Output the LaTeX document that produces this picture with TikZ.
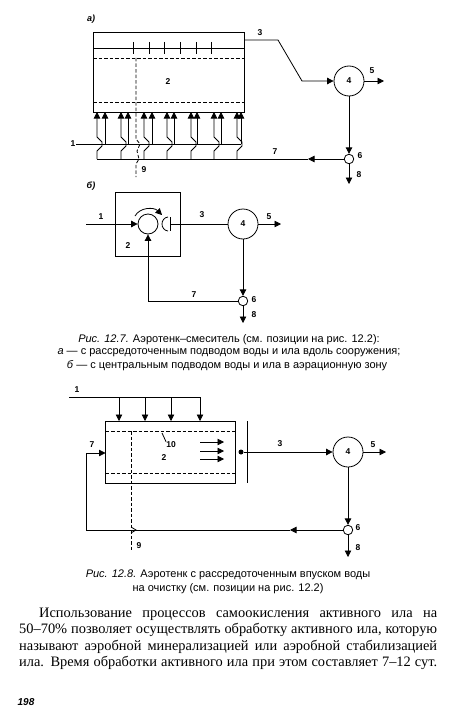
\documentclass[tikz,border=0pt]{standalone}
\usepackage{fontspec}
\setmainfont{Liberation Sans}
\newfontfamily\bodyserif{Liberation Serif}
\usetikzlibrary{arrows.meta}
\tikzset{
    num/.style={inner sep=0pt, font=\fontsize{8.5}{9}\selectfont\bfseries},
    letter/.style={inner sep=0pt, font=\fontsize{9}{10}\selectfont\bfseries\itshape},
    capline/.style={inner sep=0pt, font=\fontsize{11}{13}\selectfont},
    bodyline/.style={inner sep=0pt, anchor=base west, font=\fontsize{14.4}{16}\selectfont\bodyserif},
    tank/.style={draw, thick, inner sep=0pt},
    clar/.style={draw, thick, circle, minimum size=30pt, inner sep=0pt, font=\fontsize{8.5}{9}\selectfont\bfseries},
    split/.style={draw, thick, circle, minimum size=9.5pt, inner sep=0pt},
    pipe/.style={thick},
    flow/.style={thick, -{Stealth[inset=0pt, length=6.5pt, width=6.5pt]}},
    dash9/.style={thick, dash pattern=on 3.5pt off 2pt}
}
\begin{document}
\begin{tikzpicture}[x=1pt, y=-1pt]
    \useasboundingbox (0,0) rectangle (466,725);

    % Fig a: tank
    \node[letter] (labA) at (91,19) {а)};
    \node[tank, minimum width=151pt, minimum height=80pt] (tankA) at (168.5,72) {};
    \coordinate (topL) at (93,48);
    \coordinate (topR) at (244,48);
    \draw[pipe] (topL) -- (topR);
    \foreach \x in {133,149,164,180,196,211}
        \draw[pipe] (\x,42) -- (\x,54);
    \draw[dash9] (93,58) -- (244,58);
    \draw[dash9] (93,102) -- (244,102);
    \node[num] (twoA) at (168,82) {2};

    % Fig a: feed line and inlets
    \node[num] (oneA) at (73,144) {1};
    \coordinate (feedEnd) at (241,144);
    \draw[pipe] (76,144) -- (feedEnd);
    \foreach \a/\b in {97/105, 121/128, 144/152, 167/174, 191/197, 214/221, 237/241} {
        \draw[flow] (\a,159) -- (\a,151) -- (\a+5,146) -- (\a+5,142) -- (\a,137) -- (\a,112);
        \draw[flow] (\b,144) -- (\b,112);
    }

    % Fig a: dashed line 9
    \draw[dash9] (136,58) -- (136,139) -- (140,144) -- (137,151) -- (139,159) -- (136,164) -- (136,177);
    \node[num] (nineA) at (144,170) {9};

    % Fig a: clarifier
    \node[clar] (clarA) at (349,81) {4};
    \node[split] (splitA) at (349,159) {};
    \coordinate (outA) at (244,40);
    \coordinate (kneeA) at (278,40);
    \coordinate (kneeB) at (302,81);
    \coordinate (effA) at (384,81);
    \coordinate (wasteA) at (349,184);
    \coordinate (retA) at (308,159);
    \coordinate (colA) at (97,159);
    \draw[flow] (outA) -- (kneeA) -- (kneeB) -- (clarA);
    \draw[flow] (clarA) -- (effA);
    \draw[flow] (clarA) -- (splitA);
    \draw[flow] (splitA) -- (wasteA);
    \draw[flow] (splitA) -- (retA);
    \draw[pipe] (retA) -- (colA);
    \node[num] (threeA) at (260,33) {3};
    \node[num] (fiveA) at (372,71) {5};
    \node[num] (sevenA) at (275,152) {7};
    \node[num] (sixA) at (360,156) {6};
    \node[num] (eightA) at (359,175) {8};

    % Fig b
    \node[letter] (labB) at (91,186) {б)};
    \node[tank, minimum width=65pt, minimum height=64pt] (tankB) at (147.5,224) {};
    \node[draw, thick, circle, minimum size=20pt, inner sep=0pt] (mixB) at (148,224) {};
    \node[clar] (clarB) at (243,224) {4};
    \node[split] (splitB) at (243,301) {};
    \coordinate (inB) at (86,224);
    \coordinate (weirT) at (170,217);
    \coordinate (weirB) at (170,231);
    \coordinate (weirM) at (170,224);
    \coordinate (effB) at (281,224);
    \coordinate (wasteB) at (243,323);
    \coordinate (retB) at (148,301);
    \draw[flow] (inB) -- (mixB);
    \draw[flow] (135,216) .. controls (140,207) and (154,207) .. (162,215);
    \draw[pipe] (weirT) -- (weirB);
    \draw[pipe] (168,217) .. controls (160,218) and (160,230) .. (168,231);
    \draw[pipe] (weirM) -- (clarB);
    \draw[flow] (clarB) -- (effB);
    \draw[flow] (clarB) -- (splitB);
    \draw[flow] (splitB) -- (wasteB);
    \draw[flow] (splitB) -- (retB) -- (mixB);
    \node[num] (oneB) at (101,217) {1};
    \node[num] (twoB) at (128,246) {2};
    \node[num] (threeB) at (202,215) {3};
    \node[num] (fiveB) at (269,217) {5};
    \node[num] (sevenB) at (194,295) {7};
    \node[num] (sixB) at (254,300) {6};
    \node[num] (eightB) at (254,315) {8};

    % Caption 12.7
    \node[capline] (capA) at (229,340) {\textit{Рис. 12.7.} Аэротенк–смеситель (см. позиции на рис. 12.2):};
    \node[capline] (capB) at (229,353) {\textit{а} — с рассредоточенным подводом воды и ила вдоль сооружения;};
    \node[capline] (capC) at (227,366) {\textit{б} — с центральным подводом воды и ила в аэрационную зону};

    % Fig 12.8: tank
    \node[tank, minimum width=130pt, minimum height=62pt] (tankC) at (170.5,452) {};
    \draw[dash9] (105.5,431) -- (235.5,431);
    \draw[dash9] (105.5,473) -- (235.5,473);
    \draw[dash9] (131,431) -- (131,551);
    \node[num] (tenC) at (171,445) {10};
    \node[num] (twoC) at (164,458) {2};
    \draw[pipe] (162,433) -- (tenC.north west);
    \foreach \y in {442,451,459}
        \draw[flow] (200,\y) -- (224,\y);

    % Fig 12.8: feed line
    \node[num] (oneC) at (77,390) {1};
    \coordinate (feedL) at (69,397);
    \coordinate (feedR) at (200,397);
    \draw[pipe] (feedL) -- (feedR);
    \foreach \x in {119,145,171,200}
        \draw[flow] (\x,397) -- (\x,421);

    % Fig 12.8: clarifier
    \node[clar] (clarC) at (348,452) {4};
    \node[split] (splitC) at (348,530) {};
    \node[fill, circle, minimum size=5pt, inner sep=0pt] (dotC) at (241,452) {};
    \coordinate (barT) at (247,421);
    \coordinate (barB) at (247,483);
    \coordinate (effC) at (386,452);
    \coordinate (wasteC) at (348,557);
    \coordinate (retC) at (290,530);
    \coordinate (cornC) at (86,530);
    \coordinate (upC) at (86,453);
    \coordinate (inC) at (105.5,453);
    \draw[pipe] (barT) -- (barB);
    \draw[flow] (dotC) -- (clarC);
    \draw[flow] (clarC) -- (effC);
    \draw[flow] (clarC) -- (splitC);
    \draw[flow] (splitC) -- (wasteC);
    \draw[flow] (splitC) -- (retC);
    \draw[flow] (retC) -- (cornC) -- (upC) -- (inC);
    \draw[pipe] (131,527) -- (136,530) -- (131,533);
    \node[num] (sevenC) at (92,445) {7};
    \node[num] (threeC) at (280,444) {3};
    \node[num] (fiveC) at (373,445) {5};
    \node[num] (sixC) at (358,528) {6};
    \node[num] (eightC) at (358,548) {8};
    \node[num] (nineC) at (139,546) {9};

    % Caption 12.8
    \node[capline] (capD) at (228,575) {\textit{Рис. 12.8.} Аэротенк с рассредоточенным впуском воды};
    \node[capline] (capE) at (228,589) {на очистку (см. позиции на рис. 12.2)};

    % Body text
    \node[bodyline] (bodyA) at (39,617) {\makebox[398pt][s]{Использование процессов самоокисления активного ила на}};
    \node[bodyline] (bodyB) at (19,633) {\makebox[418pt][s]{50–70\% позволяет осуществлять обработку активного ила, которую}};
    \node[bodyline] (bodyC) at (19,650) {\makebox[418pt][s]{называют аэробной минерализацией или аэробной стабилизацией}};
    \node[bodyline] (bodyD) at (19,666) {\makebox[418pt][s]{ила. Время обработки активного ила при этом составляет 7–12 сут.}};
    \node[letter, font=\fontsize{10}{11}\selectfont\bfseries\itshape] (pageNo) at (26,702) {198};
\end{tikzpicture}
\end{document}
